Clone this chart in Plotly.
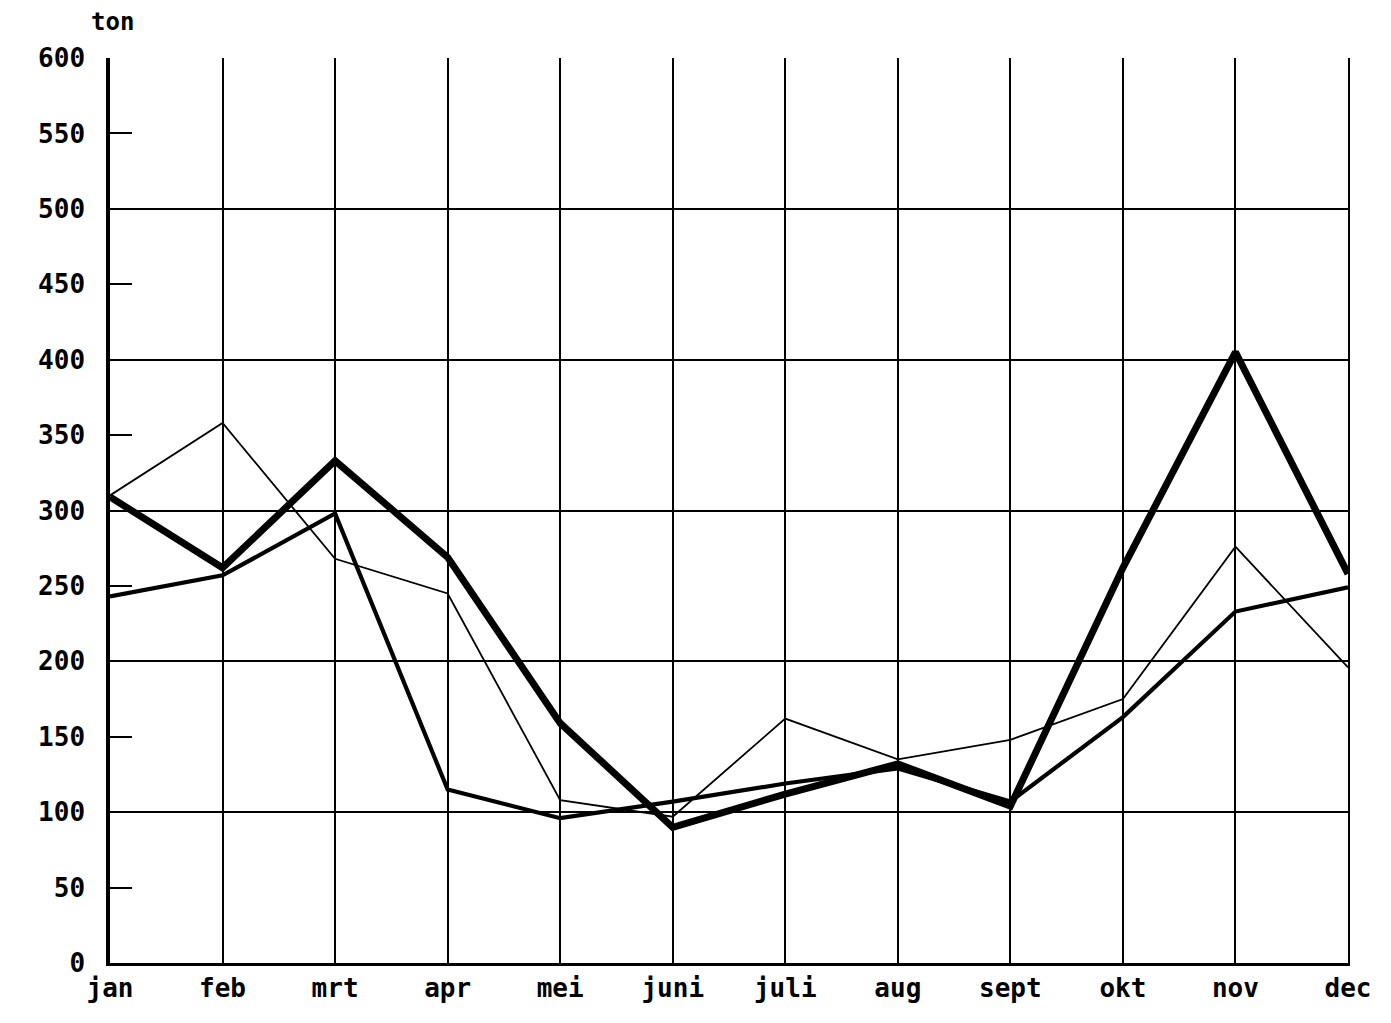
import plotly.graph_objects as go

months = ["jan", "feb", "mrt", "apr", "mei", "juni", "juli", "aug", "sept", "okt", "nov", "dec"]
thin_series = [310, 358, 268, 245, 108, 97, 162, 135, 148, 175, 276, 196]
medium_series = [243, 257, 298, 115, 96, 107, 119, 129, 107, 163, 233, 249]
thick_series = [309, 262, 333, 269, 159, 90, 112, 132, 104, 262, 405, 258]
y_ticks = list(range(0, 601, 50))
y_grid = list(range(0, 601, 100))
y_unit = "ton"

FONT = "DejaVu Sans Mono"
TICKFONT = dict(family=FONT, size=26, color="black", weight="bold")

fig = go.Figure()
fig.add_trace(go.Scatter(x=months, y=thin_series, mode="lines",
                         line=dict(color="black", width=1.8), name="reeks 1"))
fig.add_trace(go.Scatter(x=months, y=medium_series, mode="lines",
                         line=dict(color="black", width=4.2), name="reeks 2"))
fig.add_trace(go.Scatter(x=months, y=thick_series, mode="lines",
                         line=dict(color="black", width=7), name="reeks 3"))
# invisible trace so that the grid axis is drawn
fig.add_trace(go.Scatter(x=months, y=thin_series, mode="lines", yaxis="y2",
                         line=dict(color="rgba(0,0,0,0)", width=0),
                         hoverinfo="skip", showlegend=False))

fig.update_layout(
    width=1375, height=1007,
    margin=dict(l=102, r=19, t=50, b=36),
    paper_bgcolor="white", plot_bgcolor="white",
    showlegend=False,
    font=dict(family=FONT, size=26, color="black", weight="bold"),
    xaxis=dict(
        type="category", range=[0, 11],
        showgrid=True, gridcolor="black", gridwidth=1.8,
        showline=True, linecolor="black", linewidth=3, mirror=False,
        ticks="", tickfont=TICKFONT,
        ticklabelstandoff=0, zeroline=False,
    ),
    yaxis=dict(
        range=[0, 600], tickvals=y_ticks, ticktext=[str(v) for v in y_ticks],
        showgrid=False, zeroline=False,
        showline=True, linecolor="black", linewidth=3.5,
        ticks="inside", ticklen=22, tickwidth=1.8, tickcolor="black",
        tickfont=TICKFONT,
        ticklabelstandoff=16,
    ),
    yaxis2=dict(
        overlaying="y", range=[0, 600], tickvals=y_grid,
        showgrid=True, gridcolor="black", gridwidth=1.8,
        showticklabels=False, ticks="", zeroline=False,
        showline=True, linecolor="black", linewidth=1.8, side="right",
    ),
    xaxis2=dict(overlaying="x", showline=True, side="top", linecolor="black",
                linewidth=1.8, showticklabels=False, showgrid=False),
    annotations=[dict(text=y_unit, xref="paper", yref="paper", x=-0.017, y=1.0,
                      xanchor="left", yanchor="bottom", yshift=20, showarrow=False,
                      font=dict(family=FONT, size=24, color="black", weight="bold"))],
)

fig.write_html("out.html")
